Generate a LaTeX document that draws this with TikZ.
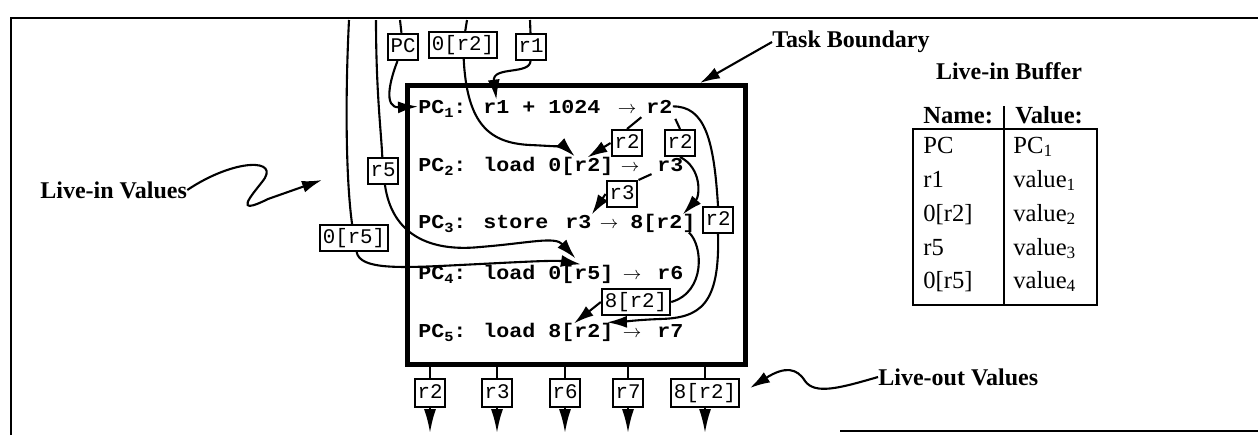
\documentclass[tikz,border=0pt]{standalone}
\usepackage{fontspec}
\setmainfont{Liberation Serif}
\newfontfamily\codefont{Liberation Mono}[FakeStretch=1.1]
\newfontfamily\lblfont{Liberation Mono}
\usetikzlibrary{arrows.meta}
\tikzset{
  code/.style={font=\codefont\bfseries\fontsize{9.85}{11}\selectfont, inner sep=0pt, anchor=base west},
  csub/.style={font=\codefont\bfseries\fontsize{7}{8}\selectfont, inner sep=0pt, anchor=base west},
  carrow/.style={font=\fontsize{9.5}{9.5}\selectfont, inner sep=0pt, anchor=base},
  lbl/.style={draw, line width=1pt, font=\lblfont\fontsize{10.4}{12}\selectfont, inner xsep=1.5pt, inner ysep=1.8pt, text height=7.4pt, text depth=2pt},
  olbl/.style={lbl, inner ysep=2.4pt},
  wire/.style={line width=1.05pt},
  arr/.style={wire, -{Latex[length=10pt,width=6pt]}},
  oarr/.style={wire, -{Latex[length=12pt,width=6pt]}},
  note/.style={font=\bfseries\fontsize{12}{14}\selectfont, inner sep=0pt},
  cell/.style={font=\fontsize{12.3}{14}\selectfont, inner sep=0pt, anchor=base west},
  hcell/.style={font=\bfseries\fontsize{12.3}{14}\selectfont, inner sep=0pt, anchor=base west},
  frame/.style={line width=1pt},
}
\newcommand\ctok[4]{\node[code] (#1) at (#2,#3) {#4};}
\newcommand\csubtok[4]{\node[csub] (#1) at (#2,#3) {#4};}
\newcommand\catok[3]{\node[carrow] (#1) at (#2,#3) {$\rightarrow$};}
\begin{document}
\begin{tikzpicture}[x=0.5pt,y=-0.5pt]
\useasboundingbox (0,0) rectangle (1258,435);

% outer frame
\draw[frame] (11,435) -- (11,18) -- (1258,18);
\draw[frame] (840,431) -- (1258,431);

% task box
\node[draw, line width=2.5pt, anchor=north west, minimum width=169pt, minimum height=139.5pt, inner sep=0pt] (task) at (405,83) {};

% code lines
\ctok{L1p}{418}{113}{PC}\csubtok{L1s}{444}{117}{1}\ctok{L1col}{453}{113}{:}
\ctok{L1r1}{483}{113}{r1}\ctok{L1pl}{522}{113}{+}\ctok{L1n}{548}{113}{1024}
\catok{L1ar}{627}{113}\ctok{L1r2}{646}{113}{r2}

\ctok{L2p}{418}{171}{PC}\csubtok{L2s}{444}{175}{2}\ctok{L2col}{453}{171}{:}
\ctok{L2ld}{483}{171}{load}\ctok{L2a}{548}{171}{0[}\ctok{L2r2}{574}{171}{r2}\ctok{L2b}{600}{171}{]}
\catok{L2ar}{630}{171}\ctok{L2r3}{657}{171}{r3}

\ctok{L3p}{418}{228}{PC}\csubtok{L3s}{444}{232}{3}\ctok{L3col}{453}{228}{:}
\ctok{L3st}{483}{228}{store}\ctok{L3r3}{565}{228}{r3}\catok{L3ar}{609}{228}
\ctok{L3a}{630}{228}{8[}\ctok{L3r2}{656}{228}{r2}\ctok{L3b}{682}{228}{]}

\ctok{L4p}{418}{279}{PC}\csubtok{L4s}{444}{283}{4}\ctok{L4col}{453}{279}{:}
\ctok{L4ld}{483}{279}{load}\ctok{L4m}{548}{279}{0[r5]}\catok{L4ar}{632}{279}\ctok{L4r6}{657}{279}{r6}

\ctok{L5p}{418}{337}{PC}\csubtok{L5s}{444}{341}{5}\ctok{L5col}{453}{337}{:}
\ctok{L5ld}{483}{337}{load}\ctok{L5a}{548}{337}{8[}\ctok{L5r2}{574}{337}{r2}\ctok{L5b}{600}{337}{]}
\catok{L5ar}{632}{337}\ctok{L5r7}{657}{337}{r7}

% live-in labels
\node[lbl] (bPC) at (403,47) {PC};
\node[lbl] (b02) at (463,45) {0[r2]};
\node[lbl] (br1) at (531,47) {r1};
\node[lbl] (br5) at (383,171) {r5};
\node[lbl] (b05) at (354,238) {0[r5]};
\node[lbl] (r2a) at (627,143) {r2};
\node[lbl] (r2b) at (680,143) {r2};
\node[lbl] (r3b) at (622,194) {r3};
\node[lbl] (r2c) at (718,220) {r2};
\node[lbl] (r8b) at (636,302) {8[r2]};

\coordinate (tPC) at (400,20);
\coordinate (t02) at (467,20);
\coordinate (tr1) at (530,20);
\coordinate (tr5) at (376,20);
\coordinate (t05) at (349,20);

% PC
\draw[wire] (tPC) -- (bPC);
\draw[arr] (bPC) .. controls (390,80) and (383,108) .. (L1p.west);
% 0[r2]
\draw[wire] (t02) -- (b02);
\draw[arr] (b02) .. controls (467,125) and (490,143) .. (530,145) .. controls (555,146) and (566,148) .. (L2a.north east);
% r1
\draw[wire] (tr1) -- (br1);
\draw[arr] (br1) .. controls (530,75) and (492,66) .. (L1r1.north);
% r5
\draw[wire] (tr5) .. controls (376,90) and (381,130) .. (br5);
\draw[arr, shorten >=4pt] (br5) .. controls (392,235) and (430,252) .. (480,247) .. controls (530,243) and (555,236) .. (L4m.north);
% 0[r5]
\draw[wire] (t05) .. controls (345,100) and (346,180) .. (b05);
\draw[arr] (b05) .. controls (360,270) and (400,268) .. (460,265) .. controls (520,262) and (555,260) .. (L4m.north);

% r2 produced by PC1
\draw[wire, shorten <=3pt] (L1r2.south west) -- (r2a.north);
\draw[arr] (r2a.west) -- (L2r2.north);
\draw[wire, shorten <=3pt] (L1r2.south east) -- (r2b.north);
\draw[arr] (r2b.south) .. controls (702,168) and (700,196) .. (L3r2.north east);
\draw[wire] (L1r2.east) .. controls (705,106) and (714,140) .. (r2c.north);
\draw[arr] (r2c.south) .. controls (720,305) and (700,318) .. (660,319) .. controls (635,320) and (620,322) .. (L5b.north);
% r3
\draw[wire, shorten <=3pt] (L2r3.south west) -- (r3b.north east);
\draw[arr] (r3b.west) -- (L3r3.north east);
% 8[r2]
\draw[wire] (L3b.south) .. controls (703,245) and (706,292) .. (r8b.east);
\draw[arr] (r8b.west) -- (L5r2.north west);

% live-out
\node[olbl] (o1) at (430,393) {r2};
\node[olbl] (o2) at (497,393) {r3};
\node[olbl] (o3) at (565,393) {r6};
\node[olbl] (o4) at (628,393) {r7};
\node[olbl] (o5) at (705,393) {8[r2]};
\coordinate (e1) at (430,433);
\coordinate (e2) at (497,433);
\coordinate (e3) at (565,433);
\coordinate (e4) at (628,433);
\coordinate (e5) at (705,433);
\draw[wire] (task.south -| o1) -- (o1); \draw[oarr] (o1) -- (e1);
\draw[wire] (task.south -| o2) -- (o2); \draw[oarr] (o2) -- (e2);
\draw[wire] (task.south -| o3) -- (o3); \draw[oarr] (o3) -- (e3);
\draw[wire] (task.south -| o4) -- (o4); \draw[oarr] (o4) -- (e4);
\draw[wire] (task.south -| o5) -- (o5); \draw[oarr] (o5) -- (e5);

% annotations
\node[note, anchor=west] (TB) at (772,42) {Task Boundary};
\coordinate (TBtip) at (700,83);
\draw[arr] (TB.west) -- (TBtip);

\node[note, anchor=west] (LIV) at (40,190) {Live-in Values};
\coordinate (LIVtip) at (322,180);
\draw[arr] (LIV.east) .. controls (235,158) and (282,158) .. (262,182) .. controls (252,195) and (232,217) .. (268,199) -- (LIVtip);

\node[note, anchor=west] (LOV) at (878,377) {Live-out Values};
\coordinate (LOVtip) at (750,388);
\draw[arr] (LOV.west) .. controls (840,388) and (815,395) .. (805,381) .. controls (797,368) and (785,366) .. (LOVtip);

% live-in buffer table
\node[note] (LIB) at (1009,71) {Live-in Buffer};
\node[hcell] (hN) at (923,123) {Name:};
\node[hcell] (hV) at (1015,123) {Value:};
\draw[line width=0.8pt] (913,129) rectangle (1097,305);
\draw[line width=0.8pt] (1004,106) -- (1004,305);
\node[cell] (n1) at (923,153) {PC};    \node[cell] (v1) at (1013,153) {PC\textsubscript{1}};
\node[cell] (n2) at (923,187) {r1};    \node[cell] (v2) at (1013,187) {value\textsubscript{1}};
\node[cell] (n3) at (923,221) {0[r2]}; \node[cell] (v3) at (1013,221) {value\textsubscript{2}};
\node[cell] (n4) at (923,255) {r5};    \node[cell] (v4) at (1013,255) {value\textsubscript{3}};
\node[cell] (n5) at (923,288) {0[r5]}; \node[cell] (v5) at (1013,288) {value\textsubscript{4}};
\end{tikzpicture}
\end{document}
